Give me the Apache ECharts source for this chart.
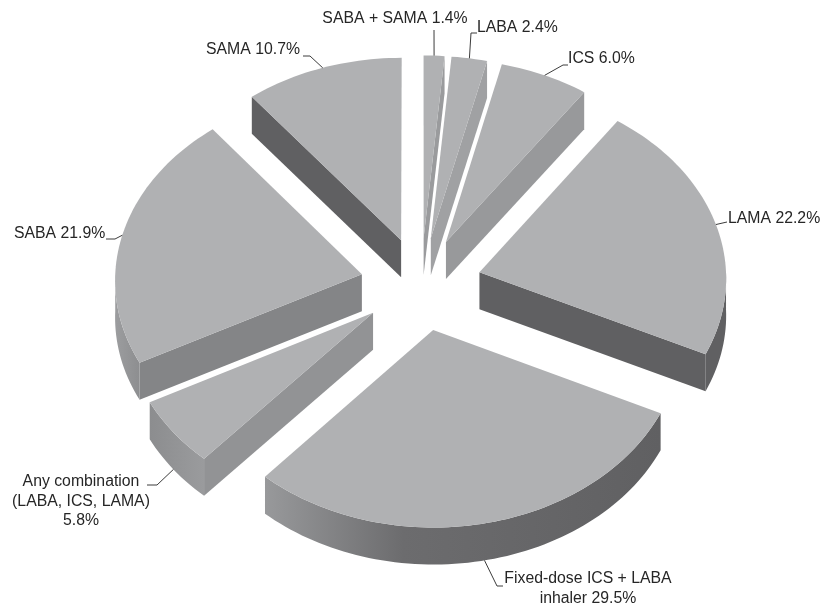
<!DOCTYPE html>
<html>
<head>
<meta charset="utf-8">
<style>
  html, body { margin: 0; padding: 0; background: #fff; }
  #main { width: 821px; height: 605px; }
</style>
<script src="https://cdn.jsdelivr.net/npm/echarts@6/dist/echarts.min.js"></script>
</head>
<body>
<div id="main"></div>
<script>
// 数据
const categories = ['SABA + SAMA', 'LABA', 'ICS', 'LAMA', 'Fixed-dose ICS + LABA', 'Any combination', 'SABA', 'SAMA']
const shares = [1.4, 2.4, 6.0, 22.2, 29.5, 5.8, 21.9, 10.7]

// label layout, same order as categories
const labelLines = [
  ['SABA + SAMA 1.4%'],
  ['LABA 2.4%'],
  ['ICS 6.0%'],
  ['LAMA 22.2%'],
  ['Fixed-dose ICS + LABA', 'inhaler 29.5%'],
  ['Any combination', '(LABA, ICS, LAMA)', '5.8%'],
  ['SABA 21.9%'],
  ['SAMA 10.7%']
]
const labelPos = [[395, 19, 'center'], [477, 28, 'left'], [568, 59, 'left'], [728, 219, 'left'], [588, 579, 'center'], [81, 482, 'center'], [14, 234, 'left'], [300, 50, 'right']]
const leaderBends = [
  [[434, 30]],
  [[471, 33], [477, 33]],
  [[563, 65], [568, 65]],
  [[727, 222]],
  [[497, 586], [503, 586]],
  [[157, 485], [147, 485]],
  [[115, 239], [106, 239]],
  [[310, 56], [303, 56]]
]

// wall colours
const edgeColors = ['#9a9b9d', '#a0a1a3', '#98999b', '#606062', null, '#929395', '#848587', '#606062']
const rimColors = [null, null, null, ['#606062', '#606062'], ['#98999b', '#6c6c6e', '#606062'], ['#8c8d8f', '#9a9b9d'], ['#9c9d9f', '#8d8e90'], null]
const topColor = '#b0b1b3'

// 投影参数
const center = [421, 284]
const radiusX = 247
const radiusY = 190
const perspective = 0.027
const explode = 0.245
const depth = 37

const total = shares.reduce((a, b) => a + b, 0)
const toAngle = v => echarts.number.linearMap(v, [0, total], [0, 360])

// disk coordinates -> pixels
const project = (u, v) => {
  const s = 1 + perspective * v
  return [center[0] + radiusX * u * s, center[1] + radiusY * v * s]
}

const sliceAngles = i => {
  const before = shares.slice(0, i).reduce((a, b) => a + b, 0)
  return [toAngle(before), toAngle(before + shares[i])]
}

const rad = d => d * Math.PI / 180

const slicePoint = (i, angle, r) => {
  const [a0, a1] = sliceAngles(i)
  const mid = rad((a0 + a1) / 2)
  const t = rad(angle)
  return project(
    explode * Math.sin(mid) + r * Math.sin(t),
    -explode * Math.cos(mid) - r * Math.cos(t)
  )
}

const arcPoints = (i, from, to) => {
  const pts = []
  const n = Math.max(2, Math.ceil((to - from) / 1.5))
  for (let k = 0; k <= n; k++) {
    pts.push(slicePoint(i, from + (to - from) * k / n, 1))
  }
  return pts
}

const down = pts => pts.map(p => [p[0], p[1] + depth])

const poly = (points, fill, z2) => ({
  type: 'polygon',
  z2,
  shape: { points },
  style: { fill, stroke: null }
})

// 扇形 + 侧壁
const renderSlice = (params, api) => {
  const i = params.dataIndex
  const [a0, a1] = sliceAngles(i)
  const apex = slicePoint(i, 0, 0)
  const children = []

  // radial wall: only the edge with open space below it can be seen
  if (edgeColors[i]) {
    const angle = a0 > 180 ? a0 : a1
    const p = slicePoint(i, angle, 1)
    children.push(poly([apex, p, [p[0], p[1] + depth], [apex[0], apex[1] + depth]], edgeColors[i], 1))
  }

  // outer wall
  const from = Math.max(a0, 90)
  const to = Math.min(a1, 270)
  if (rimColors[i] && to > from) {
    const arc = arcPoints(i, from, to)
    const stops = rimColors[i]
    const colors = stops.length === 3
      ? [{ offset: 0, color: stops[0] }, { offset: 0.35, color: stops[1] }, { offset: 1, color: stops[2] }]
      : [{ offset: 0, color: stops[0] }, { offset: 1, color: stops[1] }]
    // gradient runs left to right on screen
    const left = a0 + a1 > 360 ? 1 : 0
    const fill = new echarts.graphic.LinearGradient(0, 0, 1, 0, left || stops.length === 3 ? colors : colors.slice().reverse())
    children.push(poly(arc.concat(down(arc).reverse()), fill, 2))
  }

  // top face
  children.push(poly([apex].concat(arcPoints(i, a0, a1)), topColor, 3))

  // leader line from the middle of the arc
  const mid = (a0 + a1) / 2
  let start = slicePoint(i, mid, 1)
  if (mid > 90 && mid < 270) start = [start[0], start[1] + depth]
  children.push({
    type: 'polyline',
    z2: 4,
    shape: { points: [start].concat(leaderBends[i]) },
    style: { fill: null, stroke: '#3c3c3c', lineWidth: 1 }
  })

  // label
  const [lx, ly, align] = labelPos[i]
  labelLines[i].forEach((line, k) => {
    children.push({
      type: 'text',
      z2: 5,
      style: {
        x: lx,
        y: ly + k * 19.5,
        text: line,
        align,
        verticalAlign: 'middle',
        fill: '#262626',
        font: '15.8px "Liberation Sans", Arial, sans-serif'
      }
    })
  })

  return { type: 'group', children }
}

const chart = echarts.init(document.getElementById('main'), null, { renderer: 'canvas' })
chart.setOption({
  animation: false,
  backgroundColor: '#fff',
  series: [
    {
      type: 'custom',
      name: 'Share',
      coordinateSystem: 'none',
      silent: true,
      renderItem: renderSlice,
      data: shares.map((v, i) => ({ name: categories[i], value: v }))
    }
  ]
})
</script>
</body>
</html>
